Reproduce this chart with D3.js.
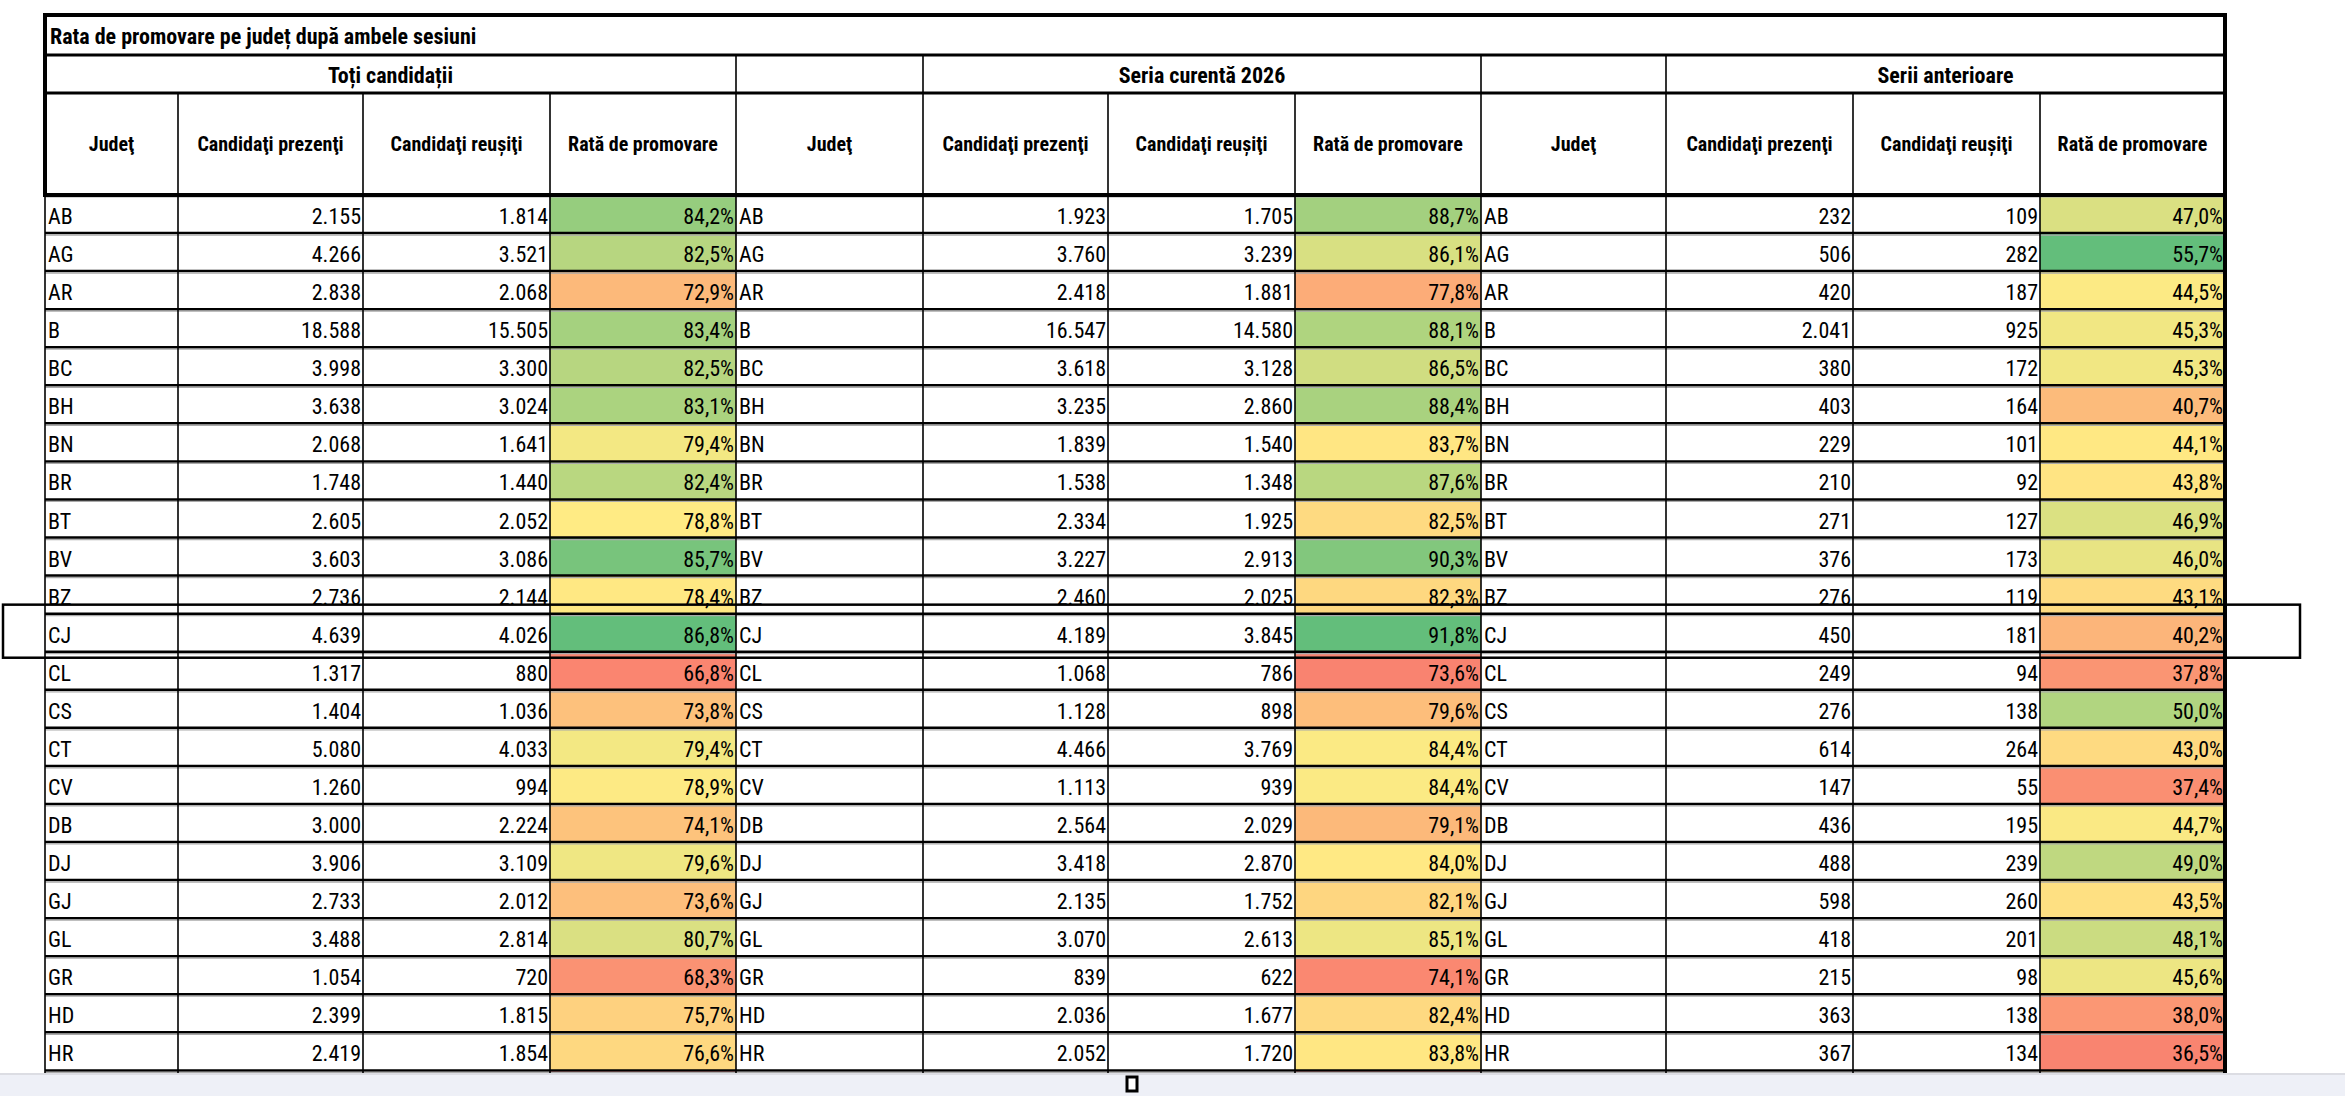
<!DOCTYPE html>
<html lang="ro">
<head>
<meta charset="UTF-8">
<script src="https://cdn.jsdelivr.net/npm/d3@7/dist/d3.min.js"></script>
<style>
  body { margin:0; background:#fff; }
  svg text { font-family: "Liberation Sans Narrow", "Roboto Condensed", "Liberation Sans", sans-serif; font-size:22px; fill:#000; }
  .bold { font-weight:bold; }
</style>
</head>
<body>
<div id="container"></div>
<script>
var counties = ["AB","AG","AR","B","BC","BH","BN","BR","BT","BV","BZ","CJ","CL","CS","CT","CV","DB","DJ","GJ","GL","GR","HD","HR","IF"];
var prez1 = [2155,4266,2838,18588,3998,3638,2068,1748,2605,3603,2736,4639,1317,1404,5080,1260,3000,3906,2733,3488,1054,2399,2419,1950];
var reus1 = [1814,3521,2068,15505,3300,3024,1641,1440,2052,3086,2144,4026,880,1036,4033,994,2224,3109,2012,2814,720,1815,1854,1238];
var rate1 = [84.2,82.5,72.9,83.4,82.5,83.1,79.4,82.4,78.8,85.7,78.4,86.8,66.8,73.8,79.4,78.9,74.1,79.6,73.6,80.7,68.3,75.7,76.6,63.5];
var prez2 = [1923,3760,2418,16547,3618,3235,1839,1538,2334,3227,2460,4189,1068,1128,4466,1113,2564,3418,2135,3070,839,2036,2052,1700];
var reus2 = [1705,3239,1881,14580,3128,2860,1540,1348,1925,2913,2025,3845,786,898,3769,939,2029,2870,1752,2613,622,1677,1720,1207];
var rate2 = [88.7,86.1,77.8,88.1,86.5,88.4,83.7,87.6,82.5,90.3,82.3,91.8,73.6,79.6,84.4,84.4,79.1,84.0,82.1,85.1,74.1,82.4,83.8,71.0];
var prez3 = [232,506,420,2041,380,403,229,210,271,376,276,450,249,276,614,147,436,488,598,418,215,363,367,250];
var reus3 = [109,282,187,925,172,164,101,92,127,173,119,181,94,138,264,55,195,239,260,201,98,138,134,106];
var rate3 = [47.0,55.7,44.5,45.3,45.3,40.7,44.1,43.8,46.9,46.0,43.1,40.2,37.8,50.0,43.0,37.4,44.7,49.0,43.5,48.1,45.6,38.0,36.5,42.4];

var title = "Rata de promovare pe județ după ambele sesiuni";
var sections = ["Toți candidații","Seria curentă 2026","Serii anterioare"];
var colHeads = ["Judeţ","Candidaţi prezenţi","Candidaţi reuşiţi","Rată de promovare"];

const W = 2345, H = 1096;
const edges = [45,178,363,550,736,923,1108,1295,1481,1666,1853,2040,2225];
const yTitle = 15, ySec = 55, yHead = 93, yBody = 195, rowH = 38.06, yBar = 1074;

const loc = d3.formatLocale({decimal:",", thousands:".", grouping:[3], currency:["",""]});
const fInt = loc.format(",d"), fPct = v => loc.format(".1f")(v) + "%";

const colorScales = [
  d3.scaleLinear().domain([63.5,78.8,86.8]).range(["#F8696B","#FFEB84","#63BE7B"]).clamp(true),
  d3.scaleLinear().domain([71,84.2,91.8]).range(["#F8696B","#FFEB84","#63BE7B"]).clamp(true),
  d3.scaleLinear().domain([34.5,44.3,55.7]).range(["#F8696B","#FFEB84","#63BE7B"]).clamp(true)
];

const y = d3.scaleBand().domain(counties).range([yBody, yBody + rowH*counties.length]);

const rows = counties.map((c,i) => [
  [c,prez1[i],reus1[i],rate1[i]],
  [c,prez2[i],reus2[i],rate2[i]],
  [c,prez3[i],reus3[i],rate3[i]]
]);

const svg = d3.select("#container").append("svg").attr("width",W).attr("height",H);

// cells
const rowG = svg.selectAll("g.row").data(rows).enter().append("g").attr("class","row")
  .attr("transform",(d,i)=>`translate(0,${y(counties[i])})`);

rowG.each(function(r,i){
  const g = d3.select(this);
  const hidden = y(counties[i]) + rowH - 6 > yBar;   // text would sit under the scroll bar
  r.forEach((sec,s)=>{
    sec.forEach((v,k)=>{
      const ci = s*4+k, x0 = edges[ci], x1 = edges[ci+1];
      if (k==3) g.append("rect").attr("x",x0).attr("y",0).attr("width",x1-x0).attr("height",rowH)
        .attr("fill",colorScales[s](v));
      if (hidden) return;
      const t = g.append("text").attr("y",rowH-9);
      if (k==0) t.attr("x",x0+3).text(v);
      else t.attr("x",x1-2).attr("text-anchor","end").text(k==3?fPct(v):fInt(v));
    });
  });
});

// horizontal body lines
counties.forEach((c,i)=>{
  svg.append("line").attr("x1",edges[0]).attr("x2",edges[12]).attr("y1",y(c)).attr("y2",y(c))
    .attr("stroke","#000").attr("stroke-width",2.5);
  svg.append("line").attr("x1",edges[0]).attr("x2",edges[12]).attr("y1",y(c)+2).attr("y2",y(c)+2)
    .attr("stroke","#aaa").attr("stroke-width",1.2);
});
// vertical body lines
edges.forEach((x,i)=>{
  svg.append("line").attr("x1",x).attr("x2",x).attr("y1",yHead).attr("y2",H)
    .attr("stroke","#000").attr("stroke-width", i==12 ? 4 : 1.6);
});

// header area
svg.append("rect").attr("x",edges[0]).attr("y",yTitle).attr("width",edges[12]-edges[0]).attr("height",yBody-yTitle)
  .attr("fill","#fff").attr("stroke","#000").attr("stroke-width",4);
[ySec,yHead].forEach(yy=>svg.append("line").attr("x1",edges[0]).attr("x2",edges[12]).attr("y1",yy).attr("y2",yy)
  .attr("stroke","#000").attr("stroke-width",3));
edges.slice(1,12).forEach(x=>svg.append("line").attr("x1",x).attr("x2",x).attr("y1",yHead).attr("y2",yBody)
  .attr("stroke","#000").attr("stroke-width",1.6));
[4,5,8,9].forEach(i=>svg.append("line").attr("x1",edges[i]).attr("x2",edges[i]).attr("y1",ySec).attr("y2",yHead)
  .attr("stroke","#000").attr("stroke-width",1.6));
svg.append("text").attr("class","bold").attr("x",edges[0]+5).attr("y",yTitle+29).text(title);
sections.forEach((s,i)=>{
  const a = [0,5,9][i], b = [4,8,12][i];
  svg.append("text").attr("class","bold").attr("text-anchor","middle")
    .attr("x",(edges[a]+edges[b])/2).attr("y",ySec+28).text(s);
});
for (let s=0;s<3;s++) colHeads.forEach((h,k)=>{
  const ci = s*4+k;
  svg.append("text").attr("class","bold").attr("text-anchor","middle").style("font-size","20px")
    .attr("x",(edges[ci]+edges[ci+1])/2).attr("y",(yHead+yBody)/2+7).text(h);
});

// highlight box around CJ
svg.append("rect").attr("x",3).attr("y",y("CJ")-9).attr("width",2297).attr("height",rowH+15)
  .attr("fill","none").attr("stroke","#000").attr("stroke-width",2.5);

// scrollbar strip
svg.append("rect").attr("x",0).attr("y",yBar).attr("width",W).attr("height",H-yBar).attr("fill","#EEF0F7");
svg.append("line").attr("x1",0).attr("x2",W).attr("y1",yBar).attr("y2",yBar).attr("stroke","#dcdde3").attr("stroke-width",2);
svg.append("rect").attr("x",1127).attr("y",1077).attr("width",10).attr("height",14)
  .attr("fill","#fff").attr("stroke","#000").attr("stroke-width",3);
</script>
</body>
</html>
